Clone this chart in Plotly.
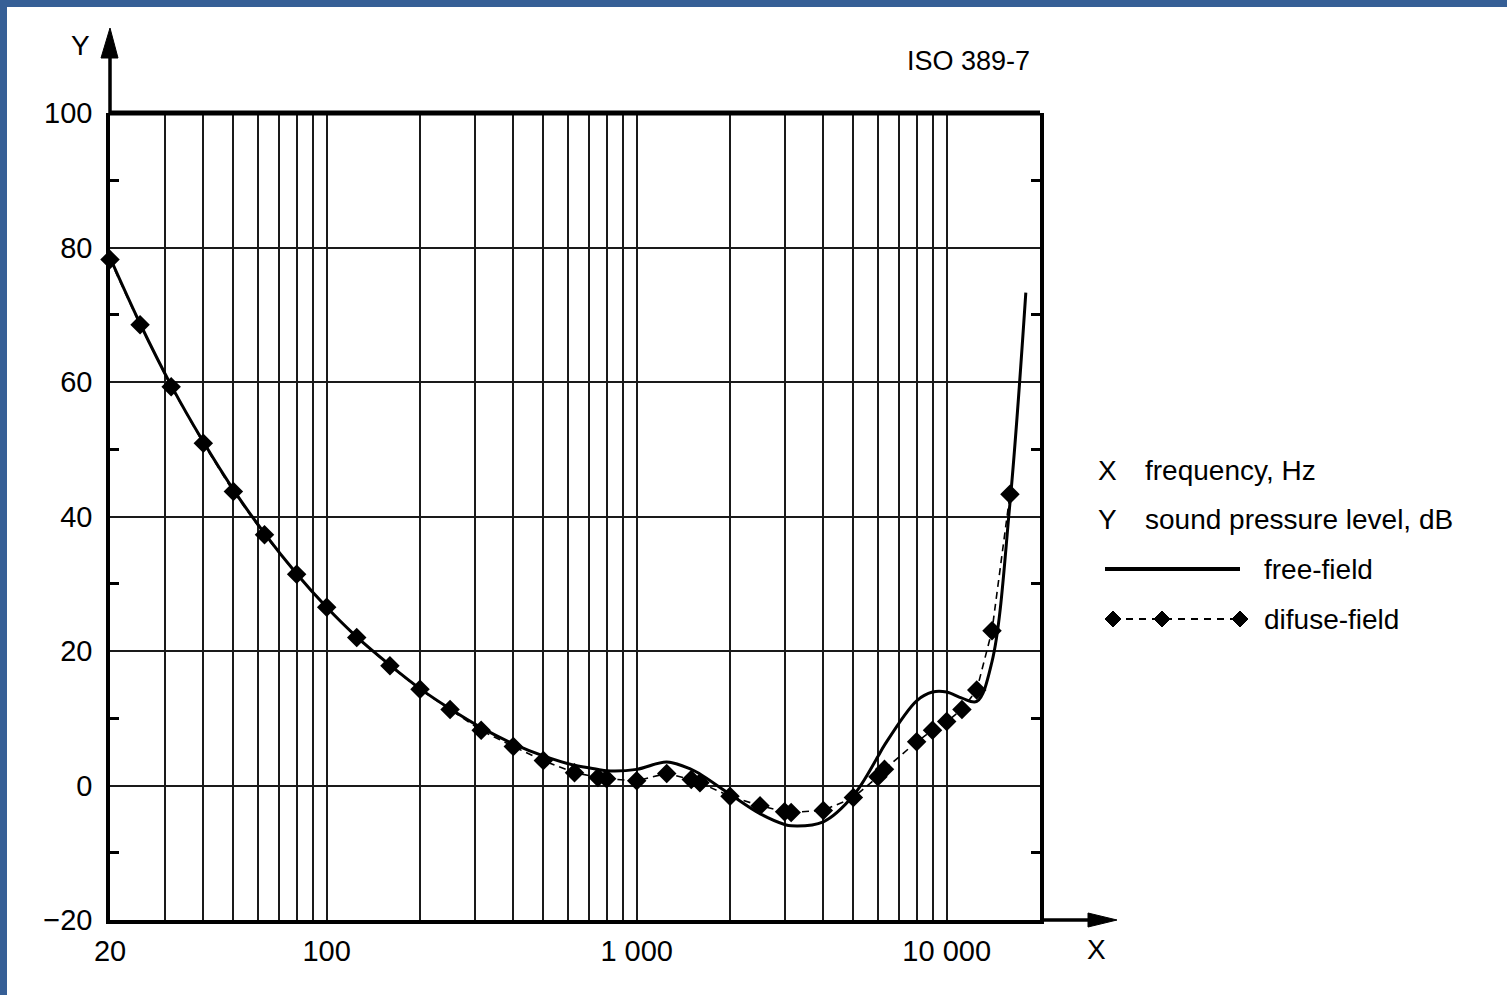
import math
import plotly.graph_objects as go

# ---------------- data ----------------
FREQ_FREE = [20, 25, 31.5, 40, 50, 63, 80, 100, 125, 160, 200, 250, 315, 400, 500, 630,
             750, 800, 1000, 1250, 1500, 1600, 2000, 2500, 3000, 3150, 4000, 5000, 6000,
             6300, 8000, 9000, 10000, 11200, 12500, 14000, 16000, 18000]
FREE_FIELD = [78.5, 68.7, 59.5, 51.1, 44.0, 37.5, 31.5, 26.5, 22.1, 17.9, 14.4, 11.4, 8.6,
              6.2, 4.4, 3.0, 2.4, 2.2, 2.4, 3.5, 2.4, 1.7, -1.3, -4.2, -5.8, -6.0, -5.4,
              -1.5, 4.3, 6.0, 12.6, 13.9, 13.9, 13.0, 12.5, 18.4, 42.0, 73.3]

FREQ_DIFF = [20, 25, 31.5, 40, 50, 63, 80, 100, 125, 160, 200, 250, 315, 400, 500, 630,
             750, 800, 1000, 1250, 1500, 1600, 2000, 2500, 3000, 3150, 4000, 5000, 6000,
             6300, 8000, 9000, 10000, 11200, 12500, 14000, 16000]
DIFFUSE = [78.2, 68.5, 59.3, 50.9, 43.7, 37.3, 31.4, 26.5, 22.0, 17.8, 14.3, 11.3, 8.2,
           5.8, 3.7, 1.9, 1.2, 1.0, 0.7, 1.8, 0.9, 0.4, -1.6, -3.0, -3.9, -4.0, -3.7,
           -1.8, 1.3, 2.4, 6.5, 8.2, 9.5, 11.3, 14.2, 23.0, 43.3]

X_GRID = [30, 40, 50, 60, 70, 80, 90, 100, 200, 300, 400, 500, 600, 700, 800, 900, 1000,
          2000, 3000, 4000, 5000, 6000, 7000, 8000, 9000, 10000, 20000]
X_LABELED = {20: "20", 100: "100", 1000: "1 000", 10000: "10 000"}
Y_TICKS = [-20, 0, 20, 40, 60, 80, 100]
Y_TICKTEXT = ["\u221220", "0", "20", "40", "60", "80", "100"]
Y_MINOR = [-10, 10, 30, 50, 70, 90]

# ---------------- layout helpers ----------------
W, H = 1507, 995
L, R, T, B = 110, 467, 113, 75
PW, PH = W - L - R, H - T - B


def px(xp):
    return (xp - L) / PW


def py(yp):
    return (H - B - yp) / PH


FONT = "Liberation Sans, Arial, sans-serif"
BLUE = "#365f96"

x_tickvals = [20] + X_GRID
x_ticktext = [X_LABELED.get(v, "") for v in x_tickvals]

fig = go.Figure()

fig.add_trace(go.Scatter(
    x=FREQ_DIFF, y=DIFFUSE, mode="lines+markers", name="difuse-field",
    line=dict(color="black", width=1.6, dash="7px,5px"),
    marker=dict(symbol="diamond", size=15, color="black"),
    cliponaxis=False, showlegend=False,
))
fig.add_trace(go.Scatter(
    x=FREQ_FREE, y=FREE_FIELD, mode="lines", name="free-field",
    line=dict(color="black", width=3, shape="spline", smoothing=1.0),
    cliponaxis=False, showlegend=False,
))

shapes = []
# blue frame (top and left)
shapes.append(dict(type="rect", xref="paper", yref="paper",
                   x0=px(0), x1=px(W), y0=py(7), y1=py(0),
                   fillcolor=BLUE, line=dict(width=0), layer="above"))
shapes.append(dict(type="rect", xref="paper", yref="paper",
                   x0=px(0), x1=px(7), y0=py(H), y1=py(0),
                   fillcolor=BLUE, line=dict(width=0), layer="above"))
# top thick line at 100
shapes.append(dict(type="line", xref="paper", yref="paper",
                   x0=0, x1=1, y0=1, y1=1, line=dict(color="black", width=5), layer="above"))
# y axis extension and arrow
shapes.append(dict(type="line", xref="paper", yref="paper",
                   x0=0, x1=0, y0=1, y1=py(55), line=dict(color="black", width=3.5), layer="above"))
shapes.append(dict(type="path", xref="paper", yref="paper",
                   path=f"M {px(101)} {py(58)} L {px(110)} {py(28)} L {px(118)} {py(58)} Z",
                   fillcolor="black", line=dict(color="black", width=1), layer="above"))
# x axis extension and arrow
shapes.append(dict(type="line", xref="paper", yref="paper",
                   x0=1, x1=px(1090), y0=0, y1=0, line=dict(color="black", width=3.5), layer="above"))
shapes.append(dict(type="path", xref="paper", yref="paper",
                   path=f"M {px(1088)} {py(913)} L {px(1117)} {py(920)} L {px(1088)} {py(927)} Z",
                   fillcolor="black", line=dict(color="black", width=1), layer="above"))
# legend samples
shapes.append(dict(type="line", xref="paper", yref="paper",
                   x0=px(1105), x1=px(1240), y0=py(569), y1=py(569),
                   line=dict(color="black", width=4)))
shapes.append(dict(type="line", xref="paper", yref="paper",
                   x0=px(1113), x1=px(1240), y0=py(619), y1=py(619),
                   line=dict(color="black", width=2, dash="7px,6px")))
for cx in (1113, 1162, 1240):
    shapes.append(dict(type="path", xref="paper", yref="paper",
                       path=(f"M {px(cx - 8)} {py(619)} L {px(cx)} {py(611)} "
                             f"L {px(cx + 8)} {py(619)} L {px(cx)} {py(627)} Z"),
                       fillcolor="black", line=dict(color="black", width=1)))

annotations = []


def txt(x, y, s, size=28, xanchor="left"):
    annotations.append(dict(xref="paper", yref="paper", x=px(x), y=py(y), text=s,
                            showarrow=False, xanchor=xanchor, yanchor="middle",
                            font=dict(family=FONT, size=size, color="black")))


txt(80, 46, "Y", xanchor="center")
txt(1096, 950, "X", xanchor="center")
txt(968, 61, "ISO 389-7", size=27, xanchor="center")
txt(1107, 470, "X", xanchor="center")
txt(1143, 470, "frequency, Hz")
txt(1107, 519, "Y", xanchor="center")
txt(1143, 519, "sound pressure level, dB")
txt(1262, 569, "free-field")
txt(1262, 619, "difuse-field")

fig.update_layout(
    width=W, height=H,
    margin=dict(l=L, r=R, t=T, b=B, pad=0),
    paper_bgcolor="white", plot_bgcolor="white",
    font=dict(family=FONT, size=29, color="black"),
    showlegend=False,
    shapes=shapes, annotations=annotations,
    xaxis=dict(
        type="log", range=[math.log10(20) - 1e-6, math.log10(20000)],
        tickmode="array", tickvals=x_tickvals, ticktext=x_ticktext,
        ticks="", showgrid=True, gridcolor="#1a1a1a", gridwidth=1.5,
        showline=True, linecolor="black", linewidth=3.5,
        zeroline=False, ticklabelstandoff=2,
        tickfont=dict(family=FONT, size=29, color="black"),
    ),
    yaxis=dict(
        range=[-20, 100],
        tickmode="array", tickvals=Y_TICKS, ticktext=Y_TICKTEXT,
        ticks="", showgrid=True, gridcolor="#1a1a1a", gridwidth=1.5,
        showline=True, linecolor="black", linewidth=3.5, mirror="ticks",
        zeroline=False, ticklabelstandoff=8,
        tickfont=dict(family=FONT, size=29, color="black"),
        minor=dict(tickmode="array", tickvals=Y_MINOR, ticks="inside",
                   ticklen=9, tickwidth=2.5, tickcolor="black", showgrid=False),
    ),
)

fig.write_html("out.html",
               config={"displayModeBar": False},
               post_script="document.body.style.margin='0';document.body.style.padding='0';")
